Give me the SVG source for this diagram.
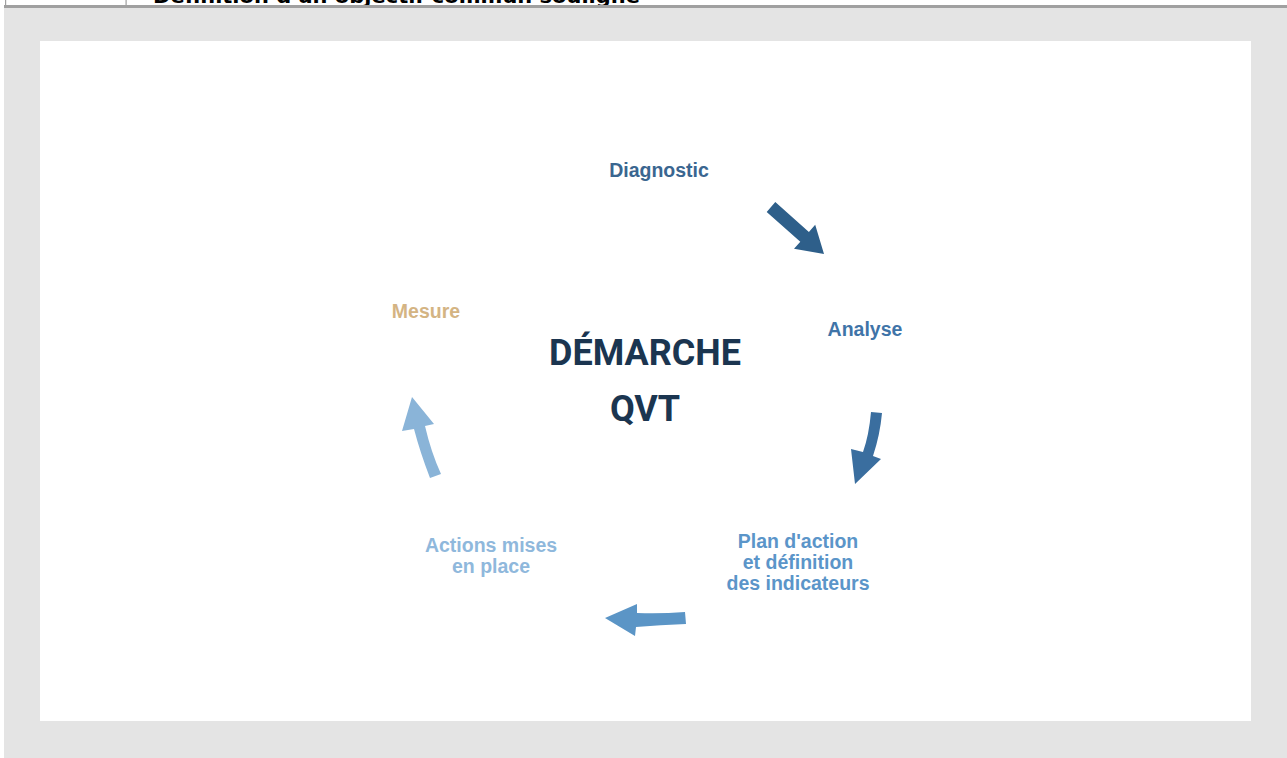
<svg xmlns="http://www.w3.org/2000/svg" width="1287" height="758" viewBox="0 0 1287 758">
<style>
.lbl{font-family:"Liberation Sans",Arial,sans-serif;font-weight:bold;font-size:19.5px;text-anchor:middle}
.title{font-family:Roboto,"Liberation Sans",sans-serif;font-weight:bold;font-size:36px;text-anchor:middle;fill:#1b3550}
</style>
<rect x="0" y="0" width="1287" height="758" fill="#ffffff"/>
<rect x="4" y="8" width="1283" height="750" fill="#e4e4e4"/>
<g id="table-row">
<text x="153" y="3" textLength="487" lengthAdjust="spacingAndGlyphs" font-family="'DejaVu Sans','Liberation Sans',sans-serif" font-weight="bold" font-size="20" fill="#000">Définition d'un objectif commun souligné</text>
<rect x="4" y="5" width="1283" height="3" fill="#a0a0a0"/>
<rect x="5" y="0" width="1.2" height="8" fill="#a0a0a0"/>
<rect x="125.5" y="0" width="1.2" height="8" fill="#a0a0a0"/>
</g>
<rect x="40" y="41" width="1211" height="680" fill="#ffffff"/>
<g id="center">
<text class="title" x="645" y="365">DÉMARCHE</text>
<text class="title" x="645" y="421">QVT</text>
</g>
<g id="diagnostic"><text class="lbl" x="659" y="177" fill="#3a6690">Diagnostic</text></g>
<g id="analyse"><text class="lbl" x="865" y="336" fill="#3f74a8">Analyse</text></g>
<g id="plan"><text class="lbl" fill="#5b95c9"><tspan x="798" y="548">Plan d'action</tspan><tspan x="798" y="569">et définition</tspan><tspan x="798" y="590">des indicateurs</tspan></text></g>
<g id="actions"><text class="lbl" fill="#8fb8dc"><tspan x="491" y="552">Actions mises</tspan><tspan x="491" y="573">en place</tspan></text></g>
<g id="mesure"><text class="lbl" x="426" y="318" fill="#d4b483">Mesure</text></g>
<g id="connectors">
<path d="M766.7,211.9 L775.3,202.1 L808.9,232 L815.2,224.8 L824,254 L794,248.8 L800.3,241.7 Z" fill="#2e5f8a"/>
<path d="M871,412 Q869,435 863,452 L851,449 L855,484 L881,459 L873,456 Q880,435 882,413 Z" fill="#3a6e9f"/>
<path d="M685,612 Q660,614 637,613 L637,604 L605,618 L635,636 L636,627 Q660,625 686,624 Z" fill="#5b95c6"/>
<path d="M430,478 Q420,452 414,429 L402,431 L412,397 L434,424 L425,426 Q431,452 441,474 Z" fill="#8ab4d8"/>
</g>
</svg>
